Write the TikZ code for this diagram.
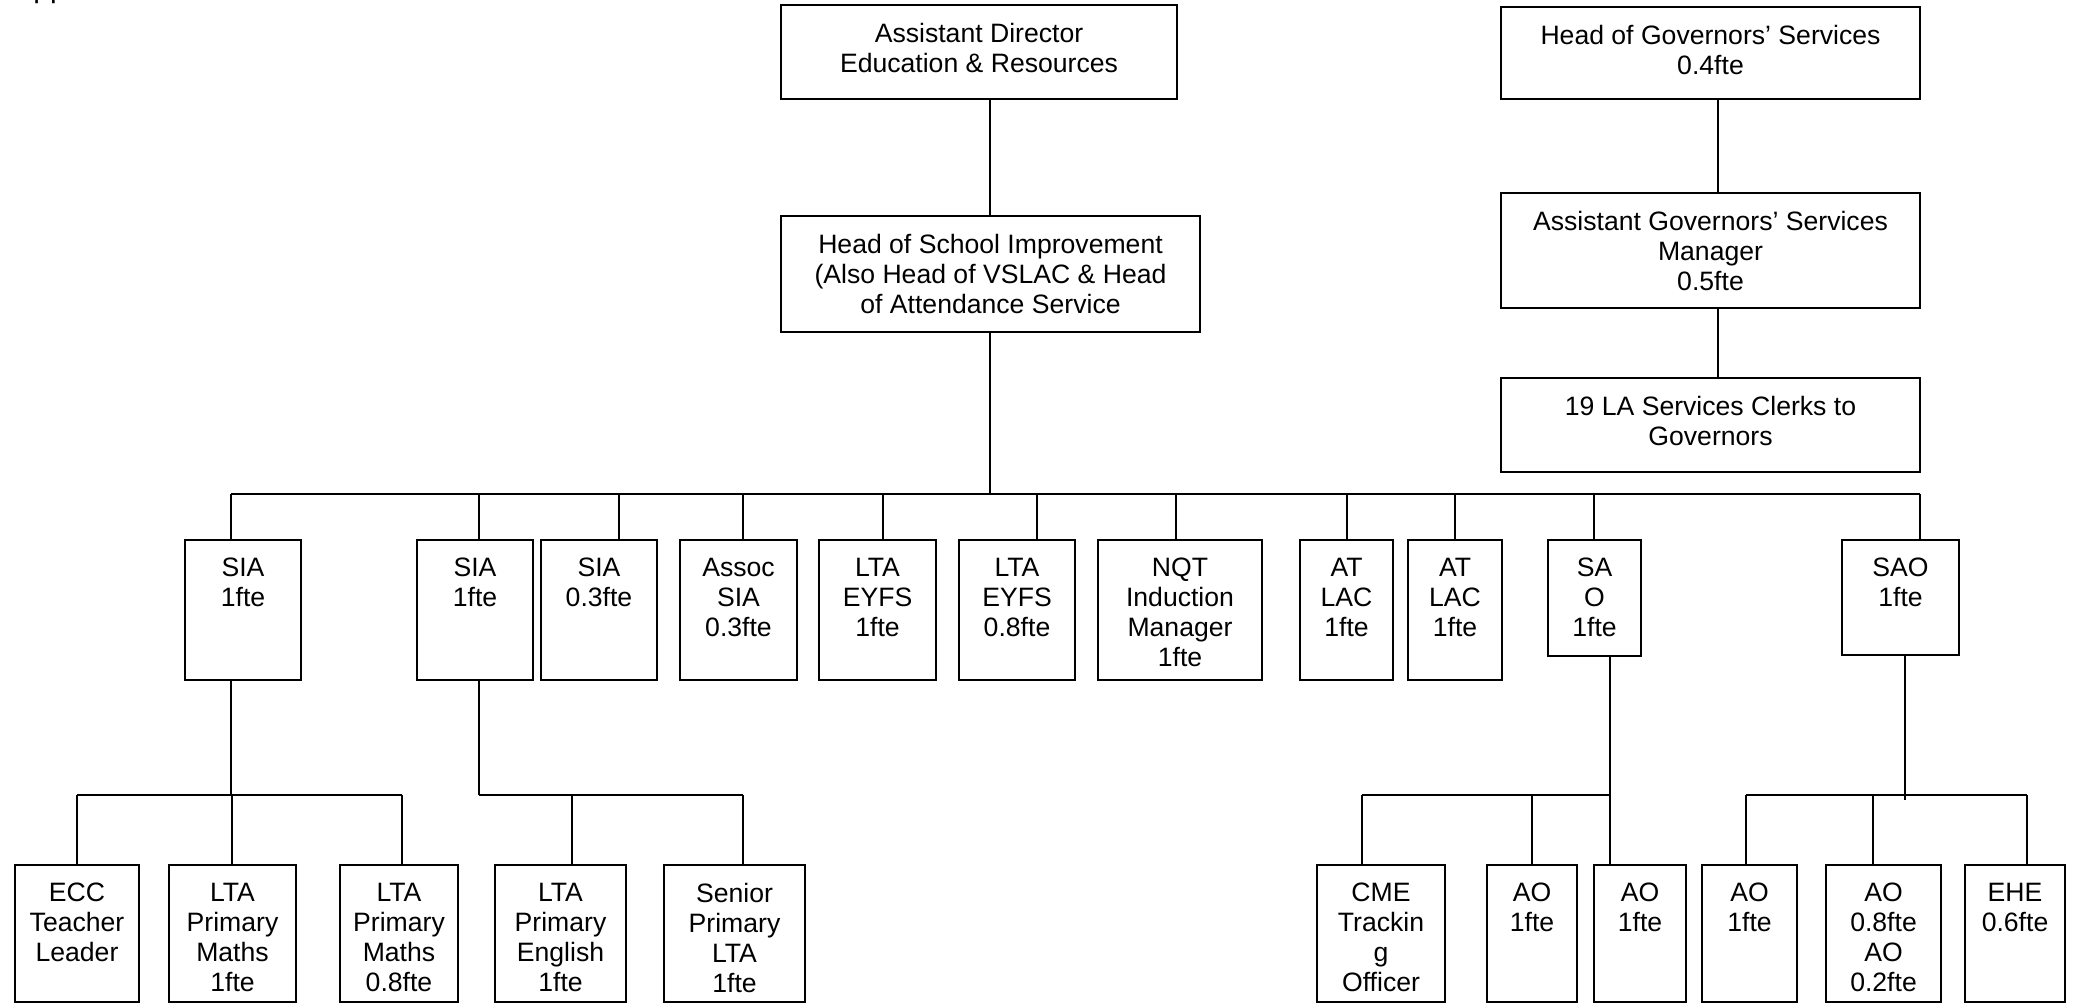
\documentclass[tikz,border=0pt]{standalone}
\usepackage{fontspec}
\setmainfont{Liberation Sans}
\newcommand\orgbox[6]{%
  \node[box, minimum width={(#3-#2)*0.5pt}, minimum height={(#5-#4)*0.5pt}] (#1) at ({(#2+#3)/2},{(#4+#5)/2}) {};
  \node[lbl] (#1t) at ([yshift=-9pt]#1.north) {#6};
}
\begin{document}
\begin{tikzpicture}[x=0.5pt,y=-0.5pt,
  box/.style={draw, line width=0.8pt, inner sep=0pt, outer sep=0pt},
  lbl/.style={anchor=north, align=center, inner sep=0pt, font=\fontsize{13.3}{15}\selectfont},
  link/.style={line width=0.8pt}]
\useasboundingbox (0,0) rectangle (2092,1004);
\node[anchor=base west, inner sep=0pt, font=\fontsize{15}{18}\selectfont] (app) at (13,-2.5) {Appendix};
% top
\orgbox{ad}{781}{1177}{5}{99}{Assistant Director\\Education \& Resources}
\orgbox{hsi}{781}{1200}{216}{332}{Head of School Improvement\\(Also Head of VSLAC \& Head\\of Attendance Service}
\orgbox{hgs}{1501}{1920}{7}{99}{Head of Governors’ Services\\0.4fte}
\orgbox{agsm}{1501}{1920}{193}{308}{Assistant Governors’ Services\\Manager\\0.5fte}
\orgbox{clerks}{1501}{1920}{378}{472}{19 LA Services Clerks to\\Governors}
% middle row
\orgbox{siaa}{185}{301}{540}{680}{SIA\\1fte}
\orgbox{siab}{417}{533}{540}{680}{SIA\\1fte}
\orgbox{siac}{541}{657}{540}{680}{SIA\\0.3fte}
\orgbox{assoc}{680}{797}{540}{680}{Assoc\\SIA\\0.3fte}
\orgbox{ltea}{819}{936}{540}{680}{LTA\\EYFS\\1fte}
\orgbox{lteb}{959}{1075}{540}{680}{LTA\\EYFS\\0.8fte}
\orgbox{nqt}{1098}{1262}{540}{680}{NQT\\Induction\\Manager\\1fte}
\orgbox{atla}{1300}{1393}{540}{680}{AT\\LAC\\1fte}
\orgbox{atlb}{1408}{1502}{540}{680}{AT\\LAC\\1fte}
\orgbox{saoa}{1548}{1641}{540}{656}{SA\\O\\1fte}
\orgbox{saob}{1842}{1959}{540}{655}{SAO\\1fte}
% bottom row
\orgbox{ecc}{15}{139}{865}{1002}{ECC\\Teacher\\Leader}
\orgbox{lpma}{169}{296}{865}{1002}{LTA\\Primary\\Maths\\1fte}
\orgbox{lpmb}{340}{458}{865}{1002}{LTA\\Primary\\Maths\\0.8fte}
\orgbox{lpe}{495}{626}{865}{1002}{LTA\\Primary\\English\\1fte}
\orgbox{spl}{664}{805}{865}{1002}{Senior\\Primary\\LTA\\1fte}
\orgbox{cme}{1317}{1445}{865}{1002}{CME\\Trackin\\g\\Officer}
\orgbox{aoa}{1487}{1577}{865}{1002}{AO\\1fte}
\orgbox{aob}{1594}{1686}{865}{1002}{AO\\1fte}
\orgbox{aoc}{1702}{1797}{865}{1002}{AO\\1fte}
\orgbox{aod}{1826}{1941}{865}{1002}{AO\\0.8fte\\AO\\0.2fte}
\orgbox{ehe}{1965}{2065}{865}{1002}{EHE\\0.6fte}
% connectors: main chain
\coordinate (mx) at (990,494);
\draw[link] (hsi.north -| mx) -- (ad.south -| mx);
\draw[link] (hsi.south -| mx) -- (mx);
\coordinate (gx) at (1718,0);
\draw[link] (hgs.south -| gx) -- (agsm.north -| gx);
\draw[link] (agsm.south -| gx) -- (clerks.north -| gx);
% main bus
\coordinate (busL) at (231,494);
\coordinate (busR) at (1920,494);
\draw[link] (busL) -- (busR);
\foreach \n/\x in {siaa/231,siab/479,siac/619,assoc/743,ltea/883,lteb/1037,nqt/1176,atla/1347,atlb/1455,saoa/1594,saob/1920}{
  \coordinate (c-\n) at (\x,494);
  \draw[link] (c-\n) -- (c-\n |- \n.north);
}
% SIA 1 group
\coordinate (ga) at (231,795);
\draw[link] (siaa.south -| ga) -- (ga);
\coordinate (gaL) at (77,795);
\coordinate (gaR) at (402,795);
\draw[link] (gaL) -- (gaR);
\foreach \n/\x in {ecc/77,lpma/232,lpmb/402}{
  \coordinate (d-\n) at (\x,795);
  \draw[link] (d-\n) -- (d-\n |- \n.north);
}
% SIA 2 group
\coordinate (gb) at (479,795);
\draw[link] (siab.south -| gb) -- (gb);
\coordinate (gbR) at (743,795);
\draw[link] (gb) -- (gbR);
\foreach \n/\x in {lpe/572,spl/743}{
  \coordinate (d-\n) at (\x,795);
  \draw[link] (d-\n) -- (d-\n |- \n.north);
}
% SA O group
\coordinate (gc) at (1610,795);
\draw[link] (saoa.south -| gc) -- (gc);
\coordinate (gcL) at (1362,795);
\draw[link] (gcL) -- (gc);
\foreach \n/\x in {cme/1362,aoa/1532,aob/1610}{
  \coordinate (d-\n) at (\x,795);
  \draw[link] (d-\n) -- (d-\n |- \n.north);
}
% SAO group
\coordinate (gd) at (1905,800);
\draw[link] (saob.south -| gd) -- (gd);
\coordinate (gdL) at (1746,795);
\coordinate (gdR) at (2027,795);
\draw[link] (gdL) -- (gdR);
\foreach \n/\x in {aoc/1746,aod/1873,ehe/2027}{
  \coordinate (d-\n) at (\x,795);
  \draw[link] (d-\n) -- (d-\n |- \n.north);
}
\end{tikzpicture}
\end{document}
